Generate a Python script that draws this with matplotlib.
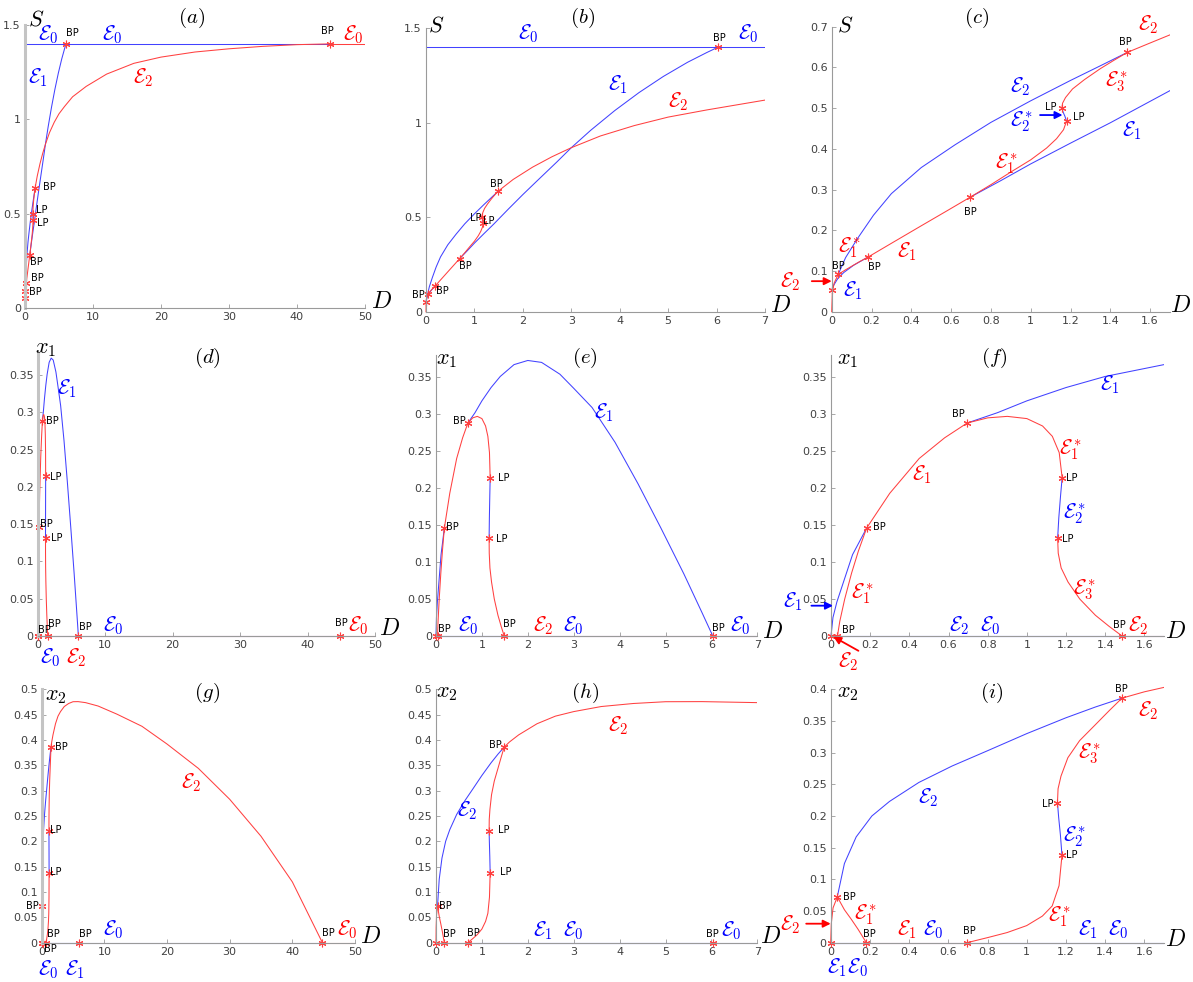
import matplotlib
matplotlib.use("Agg")
import matplotlib.pyplot as plt
from matplotlib.ticker import FuncFormatter
from matplotlib.transforms import Bbox, TransformedBbox

plt.rcParams['mathtext.fontset'] = 'cm'
plt.rcParams['font.family'] = 'DejaVu Sans'

# ---------------- equilibrium branches against the dilution rate D ----------------
# cut_* : indices where stability changes ; red_* : first piece stable (drawn red)

# E0 : washout
D_E0 = [0, 44.8, 50]
S_E0 = [1.4, 1.4, 1.4]
x1_E0 = [0, 0, 0]
x2_E0 = [0, 0, 0]
cut_E0 = [1]
red_E0 = False

# E1 : only species 1
D_E1 = [0, 0.01, 0.03, 0.06, 0.11, 0.182, 0.3, 0.45, 0.58, 0.695, 0.85, 1.0, 1.2, 1.4,
        1.7, 2.0, 2.3, 2.7, 3.0, 3.4, 3.9, 4.4, 4.9, 5.4, 5.8, 6.03]
S_E1 = [0.053, 0.065, 0.081, 0.096, 0.114, 0.134, 0.168, 0.211, 0.248, 0.281, 0.322, 0.363,
        0.414, 0.464, 0.543, 0.62, 0.694, 0.792, 0.868, 0.96, 1.065, 1.16, 1.245, 1.32, 1.372, 1.4]
x1_E1 = [0, 0.025, 0.046, 0.07, 0.11, 0.146, 0.193, 0.24, 0.268, 0.288, 0.302, 0.318, 0.336,
         0.351, 0.367, 0.3726, 0.37, 0.354, 0.335, 0.309, 0.262, 0.206, 0.146, 0.084, 0.031, 0]
x2_E1 = [0] * 26
cut_E1 = [5, 9]
red_E1 = False

# E2 : only species 2
D_E2 = [0, 0.003, 0.012, 0.033, 0.07, 0.13, 0.21, 0.3, 0.45, 0.62, 0.8, 1.0, 1.2, 1.35, 1.486,
        1.6, 1.8, 2.2, 2.6, 3.0, 3.6, 4.3, 5.0, 5.8, 7.0, 9.0, 12, 16, 20, 25, 30, 35, 40, 44.8]
S_E2 = [0, 0.045, 0.07, 0.092, 0.133, 0.18, 0.237, 0.29, 0.354, 0.41, 0.465, 0.518, 0.568,
        0.604, 0.637, 0.66, 0.70, 0.765, 0.82, 0.868, 0.93, 0.985, 1.03, 1.068, 1.12, 1.175,
        1.24, 1.297, 1.33, 1.357, 1.374, 1.387, 1.396, 1.4]
x1_E2 = [0] * 34
x2_E2 = [0, 0.03, 0.055, 0.0716, 0.125, 0.167, 0.2, 0.223, 0.253, 0.279, 0.303, 0.33, 0.355,
         0.372, 0.386, 0.396, 0.41, 0.432, 0.447, 0.456, 0.466, 0.472, 0.4755, 0.4757, 0.4737,
         0.467, 0.451, 0.427, 0.392, 0.344, 0.283, 0.21, 0.12, 0]
cut_E2 = [3, 14]
red_E2 = True

# first coexistence branch (E1*)
D_C1 = [0.033, 0.045, 0.07, 0.105, 0.14, 0.182]
S_C1 = [0.092, 0.0955, 0.103, 0.113, 0.123, 0.134]
x1_C1 = [0, 0.02, 0.05, 0.085, 0.115, 0.146]
x2_C1 = [0.0716, 0.066, 0.052, 0.037, 0.021, 0]
cut_C1 = []
red_C1 = True

# second coexistence branch (E1*, E2*, E3*) with two limit points
D_C2 = [0.695, 0.8, 0.9, 1.0, 1.08, 1.13, 1.165, 1.18, 1.172, 1.163, 1.157, 1.16, 1.175,
        1.21, 1.27, 1.35, 1.42, 1.486]
S_C2 = [0.281, 0.312, 0.343, 0.373, 0.402, 0.425, 0.447, 0.468, 0.48, 0.49, 0.5, 0.512,
        0.526, 0.547, 0.57, 0.597, 0.618, 0.637]
x1_C2 = [0.288, 0.295, 0.297, 0.294, 0.284, 0.27, 0.248, 0.214, 0.19, 0.16, 0.132, 0.112,
         0.092, 0.073, 0.05, 0.028, 0.013, 0]
x2_C2 = [0, 0.008, 0.016, 0.027, 0.042, 0.058, 0.09, 0.138, 0.17, 0.198, 0.221, 0.243,
         0.263, 0.292, 0.319, 0.344, 0.366, 0.386]
cut_C2 = [7, 10]
red_C2 = True

# branch points / limit points
SP_D = [0, 0.033, 0.182, 0.695, 1.18, 1.157, 1.486, 6.03, 44.8]
SP_S = [0.053, 0.092, 0.134, 0.281, 0.468, 0.5, 0.637, 1.4, 1.4]
SP_x1 = [0, 0, 0.146, 0.288, 0.214, 0.132, 0, 0, 0]
SP_x2 = [0, 0.0716, 0, 0, 0.138, 0.221, 0.386, 0, 0]

BLUE = '#4242ff'
RED = '#ff4040'

W, H = 1193, 982
fig = plt.figure(figsize=(W / 100, H / 100), dpi=100)


def px(x, y):
    return x / W, 1 - y / H


def E(k, star=False):
    return r'$\mathcal{E}_%s^*$' % k if star else r'$\mathcal{E}_%s$' % k


def make_ax(l, r, t, b, xlim, ylim, xt, yt):
    ax = fig.add_axes([l / W, 1 - b / H, (r - l) / W, (b - t) / H])
    ax.set_xlim(xlim)
    ax.set_ylim(ylim)
    ax.set_xticks(xt)
    ax.set_yticks(yt)
    fmt = FuncFormatter(lambda v, p: '%g' % round(v, 3))
    ax.xaxis.set_major_formatter(fmt)
    ax.yaxis.set_major_formatter(fmt)
    for s in ['top', 'right']:
        ax.spines[s].set_visible(False)
    for s in ['left', 'bottom']:
        ax.spines[s].set_color('#9a9a9a')
        ax.spines[s].set_linewidth(0.8)
    ax.tick_params(direction='in', length=3, width=0.6, color='#9a9a9a',
                   labelsize=8, labelcolor='#404040', pad=3)
    ax.patch.set_alpha(0)
    return ax


def clipbox(ax):
    return TransformedBbox(Bbox([[-0.01, -0.02], [1.0, 1.02]]), ax.transAxes)


def branch(ax, d, v, cuts, red_first):
    idx = [0] + cuts + [len(d) - 1]
    red = red_first
    for a, b in zip(idx[:-1], idx[1:]):
        ln, = ax.plot(d[a:b + 1], v[a:b + 1], color=RED if red else BLUE, lw=0.75)
        ln.set_clip_box(clipbox(ax))
        red = not red


def draw_all(ax, var):
    data = {
        'S': [S_E0, S_E1, S_E2, S_C1, S_C2, SP_S],
        'x1': [x1_E0, x1_E1, x1_E2, x1_C1, x1_C2, SP_x1],
        'x2': [x2_E0, x2_E1, x2_E2, x2_C1, x2_C2, SP_x2],
    }[var]
    branch(ax, D_E0, data[0], cut_E0, red_E0)
    branch(ax, D_E1, data[1], cut_E1, red_E1)
    branch(ax, D_E2, data[2], cut_E2, red_E2)
    branch(ax, D_C1, data[3], cut_C1, red_C1)
    branch(ax, D_C2, data[4], cut_C2, red_C2)
    m, = ax.plot(SP_D, data[5], ls='none', marker=(6, 2, 0), color=RED, ms=5.5, mew=0.8)
    m.set_clip_box(clipbox(ax))


def labels(ax, elabs, bplabs):
    for x, y, k, c in elabs:
        star = k.endswith('*')
        txt = E(k.rstrip('*'), star) if len(k) <= 2 else k
        ax.text(x, y, txt, color='blue' if c == 'b' else 'red', fontsize=15,
                ha='left', va='baseline', clip_on=False)
    for x, y, s in bplabs:
        ax.text(x, y, s, fontsize=7, ha='left', va='center', clip_on=False)


def arrow(ax, tail, head, c):
    ax.annotate('', xy=head, xytext=tail, annotation_clip=False,
                arrowprops=dict(arrowstyle='-|>', color='blue' if c == 'b' else 'red',
                                lw=1.3, mutation_scale=11, shrinkA=0, shrinkB=0))


def deco(title, tx, ty, ylab, yx, yy, dx, dy):
    fig.text(*px(tx, ty), title, fontsize=15, ha='center', va='center')
    fig.text(*px(yx, yy), ylab, fontsize=16, ha='left', va='baseline')
    fig.text(*px(dx, dy), r'$D$', fontsize=17, ha='left', va='baseline')


big_x = [0, 10, 20, 30, 40, 50]
mid_x = [0, 1, 2, 3, 4, 5, 6, 7]
sm_x = [0, 0.2, 0.4, 0.6, 0.8, 1, 1.2, 1.4, 1.6]
yS = [0, 0.5, 1, 1.5]
yx1 = [0, 0.05, 0.1, 0.15, 0.2, 0.25, 0.3, 0.35]
yx2 = [0, 0.05, 0.1, 0.15, 0.2, 0.25, 0.3, 0.35, 0.4, 0.45, 0.5]

# ---------------- (a) ----------------
ax = make_ax(25, 365, 25, 308.3, (0, 50), (0, 1.5), big_x, yS)
ax.spines['left'].set_linewidth(2.2)
ax.spines['left'].set_color('#c4c4c4')
draw_all(ax, 'S')
labels(ax, [(1.96, 1.417, '0', 'b'), (11.3, 1.417, '0', 'b'), (46.8, 1.417, '0', 'r'),
            (0.5, 1.19, '1', 'b'), (15.9, 1.19, '2', 'r')],
       [(6.0, 1.456, 'BP'), (43.6, 1.47, 'BP'), (2.6, 0.644, 'BP'), (1.6, 0.52, 'LP'),
        (1.7, 0.45, 'LP'), (0.74, 0.247, 'BP'), (0.83, 0.162, 'BP'), (0.64, 0.086, 'BP')])
deco(r'$(a)$', 192, 18, r'$S$', 28, 25, 371, 308)

# ---------------- (b) ----------------
ax = make_ax(426, 765, 28.3, 311.7, (0, 7), (0, 1.5), mid_x, yS)
draw_all(ax, 'S')
labels(ax, [(1.9, 1.44, '0', 'b'), (6.45, 1.44, '0', 'b'), (3.76, 1.17, '1', 'b'),
            (5.0, 1.08, '2', 'r')],
       [(5.93, 1.447, 'BP'), (1.32, 0.676, 'BP'), (0.9, 0.494, 'LP'), (1.18, 0.482, 'LP'),
        (0.69, 0.244, 'BP'), (0.2, 0.111, 'BP'), (-0.28, 0.088, 'BP')])
deco(r'$(b)$', 583, 18, r'$S$', 428, 32, 770, 312)

# ---------------- (c) ----------------
ax = make_ax(831.7, 1170, 26.7, 311.7, (0, 1.7), (0, 0.7), sm_x,
             [0, 0.1, 0.2, 0.3, 0.4, 0.5, 0.6, 0.7])
draw_all(ax, 'S')
labels(ax, [(1.54, 0.69, '2', 'r'), (1.374, 0.553, '3*', 'r'), (0.896, 0.538, '2', 'b'),
            (0.896, 0.455, '2*', 'b'), (1.457, 0.43, '1', 'b'), (0.82, 0.352, '1*', 'r'),
            (0.327, 0.133, '1', 'r'), (0.03, 0.146, '1*', 'r'), (0.059, 0.038, '1', 'b'),
            (-0.26, 0.06, '2', 'r')],
       [(1.445, 0.663, 'BP'), (1.072, 0.502, 'LP'), (1.214, 0.477, 'LP'),
        (0.665, 0.244, 'BP'), (0.0, 0.112, 'BP'), (0.184, 0.11, 'BP')])
arrow(ax, (-0.1, 0.075), (0.0, 0.075), 'r')
arrow(ax, (1.047, 0.483), (1.16, 0.483), 'b')
deco(r'$(c)$', 977, 18, r'$S$', 837, 32, 1170, 312)

# ---------------- (d) ----------------
ax = make_ax(37.7, 375, 352.6, 636, (0, 50), (0, 0.38), big_x, yx1)
ax.spines['left'].set_linewidth(2.2)
ax.spines['left'].set_color('#c4c4c4')
draw_all(ax, 'x1')
labels(ax, [(2.8, 0.3245, '1', 'b'), (9.7, 0.0058, '0', 'b'), (46.0, 0.0058, '0', 'r'),
            (0.3, -0.037, '0', 'b'), (4.2, -0.037, '2', 'r')],
       [(1.24, 0.288, 'BP'), (1.83, 0.213, 'LP'), (0.35, 0.150, 'BP'), (1.93, 0.131, 'LP'),
        (0.1, 0.008, 'BP'), (1.58, 0.0156, 'BP'), (6.1, 0.0116, 'BP'), (44.1, 0.017, 'BP')])
deco(r'$(d)$', 207, 358, r'$x_1$', 35, 353, 379, 635)

# ---------------- (e) ----------------
ax = make_ax(436, 757.3, 355, 636, (0, 7), (0, 0.38), mid_x, yx1)
draw_all(ax, 'x1')
labels(ax, [(3.44, 0.2945, '1', 'b'), (0.49, 0.006, '0', 'b'), (2.12, 0.006, '2', 'r'),
            (2.77, 0.006, '0', 'b'), (6.4, 0.006, '0', 'b')],
       [(0.36, 0.291, 'BP'), (1.36, 0.213, 'LP'), (0.21, 0.148, 'BP'), (1.3, 0.131, 'LP'),
        (0.05, 0.009, 'BP'), (1.45, 0.0158, 'BP'), (6.02, 0.0104, 'BP')])
deco(r'$(e)$', 585, 358, r'$x_1$', 436, 364, 762, 638)

# ---------------- (f) ----------------
ax = make_ax(831, 1164, 355, 636, (0, 1.7), (0, 0.38), sm_x, yx1)
draw_all(ax, 'x1')
labels(ax, [(1.374, 0.332, '1', 'b'), (1.166, 0.245, '1*', 'r'), (0.412, 0.21, '1', 'r'),
            (1.183, 0.158, '2*', 'b'), (0.1, 0.051, '1*', 'r'), (1.234, 0.0555, '3*', 'r'),
            (0.6, 0.006, '2', 'b'), (0.76, 0.006, '0', 'b'), (1.518, 0.006, '2', 'r'),
            (-0.245, 0.038, '1', 'b'), (0.036, -0.043, '2', 'r')],
       [(0.616, 0.3, 'BP'), (1.2, 0.213, 'LP'), (0.216, 0.147, 'BP'), (1.178, 0.131, 'LP'),
        (0.054, 0.008, 'BP'), (1.44, 0.015, 'BP')])
arrow(ax, (-0.1, 0.041), (0.01, 0.041), 'b')
arrow(ax, (0.14, -0.02), (0.012, -0.001), 'r')
deco(r'$(f)$', 994, 358, r'$x_1$', 837, 364, 1165, 638)

# ---------------- (g) ----------------
ax = make_ax(41.7, 355, 689.3, 942.7, (0, 50), (0, 0.5), big_x, yx2)
ax.spines['left'].set_linewidth(2.2)
ax.spines['left'].set_color('#c4c4c4')
draw_all(ax, 'x2')
labels(ax, [(22.3, 0.3046, '2', 'r'), (9.84, 0.0138, '0', 'b'), (47.1, 0.0138, '0', 'r'),
            (-0.6, -0.064, '0', 'b'), (3.7, -0.064, '1', 'b')],
       [(2.13, 0.3855, 'BP'), (1.33, 0.222, 'LP'), (1.33, 0.14, 'LP'), (-2.5, 0.072, 'BP'),
        (0.8, 0.017, 'BP'), (6.0, 0.017, 'BP'), (44.7, 0.0184, 'BP'), (0.37, -0.013, 'BP')])
deco(r'$(g)$', 207, 693, r'$x_2$', 45, 700, 360, 943)

# ---------------- (h) ----------------
ax = make_ax(436, 757.3, 689.3, 942.7, (0, 7), (0, 0.5), mid_x, yx2)
draw_all(ax, 'x2')
labels(ax, [(3.75, 0.416, '2', 'r'), (0.465, 0.249, '2', 'b'), (2.12, 0.013, '1', 'b'),
            (2.77, 0.013, '0', 'b'), (6.22, 0.013, '0', 'b')],
       [(1.16, 0.391, 'BP'), (1.34, 0.222, 'LP'), (1.39, 0.14, 'LP'), (0.073, 0.072, 'BP'),
        (0.16, 0.0164, 'BP'), (0.67, 0.0184, 'BP'), (5.88, 0.0164, 'BP')])
deco(r'$(h)$', 585, 693, r'$x_2$', 436, 697, 760, 943)

# ---------------- (i) ----------------
ax = make_ax(830.7, 1163.9, 689.3, 942.7, (0, 1.7), (0, 0.4), sm_x, yx2[:9])
draw_all(ax, 'x2')
labels(ax, [(1.57, 0.357, '2', 'r'), (1.264, 0.291, '3*', 'r'), (0.447, 0.22, '2', 'b'),
            (1.184, 0.159, '2*', 'b'), (0.118, 0.036, '1*', 'r'), (1.11, 0.033, '1*', 'r'),
            (0.337, 0.011, '1', 'r'), (0.473, 0.011, '0', 'b'), (1.264, 0.011, '1', 'b'),
            (1.417, 0.011, '0', 'b'), (-0.26, 0.02, '2', 'r'),
            (-0.02, -0.048, r'$\mathcal{E}_1\mathcal{E}_0$', 'b')],
       [(1.45, 0.4, 'BP'), (1.08, 0.219, 'LP'), (1.2, 0.138, 'LP'), (0.061, 0.0726, 'BP'),
        (0.165, 0.0135, 'BP'), (0.673, 0.0184, 'BP')])
arrow(ax, (-0.125, 0.03), (0.0, 0.03), 'r')
deco(r'$(i)$', 992, 693, r'$x_2$', 837, 697, 1165, 946)

fig.savefig('out.png', dpi=100)
